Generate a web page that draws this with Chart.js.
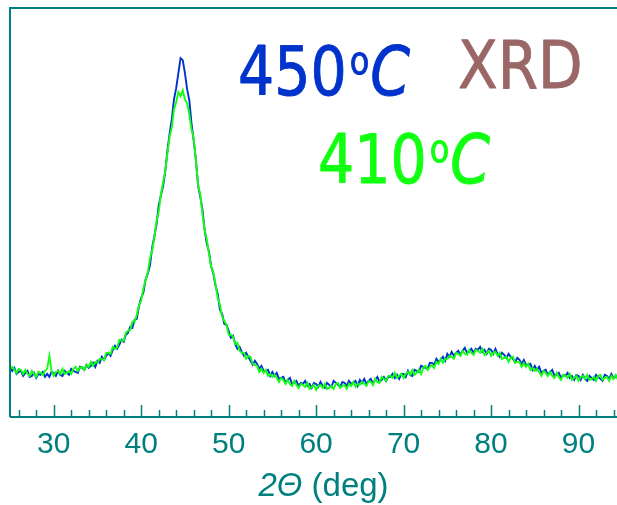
<!DOCTYPE html>
<html>
<head>
<meta charset="utf-8">
<script src="https://cdn.jsdelivr.net/npm/chart.js@4"></script>
<style>
  html, body { margin: 0; padding: 0; background: #fff; }
  #wrap { width: 617px; height: 505px; }
</style>
</head>
<body>
<div id="wrap"><canvas id="xrdChart" width="617" height="505"></canvas></div>
<script>
// scan grid, 2theta in degrees (0.25 deg steps)
const twoTheta = [
  25,25.25,25.5,25.75,26,26.25,26.5,26.75,27,27.25,27.5,27.75,28,28.25,28.5,28.75,29,29.25,29.5,29.75,
  30,30.25,30.5,30.75,31,31.25,31.5,31.75,32,32.25,32.5,32.75,33,33.25,33.5,33.75,34,34.25,34.5,34.75,
  35,35.25,35.5,35.75,36,36.25,36.5,36.75,37,37.25,37.5,37.75,38,38.25,38.5,38.75,39,39.25,39.5,39.75,
  40,40.25,40.5,40.75,41,41.25,41.5,41.75,42,42.25,42.5,42.75,43,43.25,43.5,43.75,44,44.25,44.5,44.75,
  45,45.25,45.5,45.75,46,46.25,46.5,46.75,47,47.25,47.5,47.75,48,48.25,48.5,48.75,49,49.25,49.5,49.75,
  50,50.25,50.5,50.75,51,51.25,51.5,51.75,52,52.25,52.5,52.75,53,53.25,53.5,53.75,54,54.25,54.5,54.75,
  55,55.25,55.5,55.75,56,56.25,56.5,56.75,57,57.25,57.5,57.75,58,58.25,58.5,58.75,59,59.25,59.5,59.75,
  60,60.25,60.5,60.75,61,61.25,61.5,61.75,62,62.25,62.5,62.75,63,63.25,63.5,63.75,64,64.25,64.5,64.75,
  65,65.25,65.5,65.75,66,66.25,66.5,66.75,67,67.25,67.5,67.75,68,68.25,68.5,68.75,69,69.25,69.5,69.75,
  70,70.25,70.5,70.75,71,71.25,71.5,71.75,72,72.25,72.5,72.75,73,73.25,73.5,73.75,74,74.25,74.5,74.75,
  75,75.25,75.5,75.75,76,76.25,76.5,76.75,77,77.25,77.5,77.75,78,78.25,78.5,78.75,79,79.25,79.5,79.75,
  80,80.25,80.5,80.75,81,81.25,81.5,81.75,82,82.25,82.5,82.75,83,83.25,83.5,83.75,84,84.25,84.5,84.75,
  85,85.25,85.5,85.75,86,86.25,86.5,86.75,87,87.25,87.5,87.75,88,88.25,88.5,88.75,89,89.25,89.5,89.75,
  90,90.25,90.5,90.75,91,91.25,91.5,91.75,92,92.25,92.5,92.75,93,93.25,93.5,93.75,94,94.25,94.5,94.75];

// intensity (arb. units), 450 C sample
const int450 = [
  50,46,49,43,45,46,41,44,46,40,41,44,39,43,42,45,40,43,40,45,
  44,41,46,42,41,46,44,42,48,46,45,44,50,49,47,52,49,51,54,50,
  56,54,60,57,61,64,61,67,71,68,72,77,75,82,84,90,89,97,98,111,
  119,124,137,143,151,169,180,192,211,221,230,245,266,283,297,317,328,343,358,356,
  343,327,316,293,276,257,231,220,207,187,173,165,150,143,131,123,107,103,93,92,
  86,79,81,73,68,70,65,61,64,60,56,52,56,53,48,51,46,46,47,41,
  45,41,44,38,39,40,34,37,39,33,34,36,31,34,33,36,31,33,29,34,
  33,30,35,31,29,34,32,30,36,34,32,30,35,34,31,36,33,34,36,31,
  37,34,38,33,36,38,33,37,40,35,37,40,36,40,40,43,39,42,38,43,
  43,40,46,42,41,47,46,45,51,50,49,48,54,54,52,58,55,57,60,56,
  63,60,65,61,64,66,62,66,69,64,65,68,64,68,67,70,65,67,63,68,
  67,63,68,63,60,64,62,59,63,60,58,55,59,57,53,57,52,52,53,47,
  51,47,50,44,46,47,42,45,47,41,42,44,39,42,41,44,39,41,37,42,
  41,37,42,38,36,41,39,37,42,40,38,36,42,41,38,43,39,40,42,37];

// intensity (arb. units), 410 C sample
const int410 = [
  48,50,47,44,48,47,43,47,43,41,46,43,40,45,44,42,46,48,61,46,
  41,45,46,43,48,43,44,46,43,48,50,46,49,50,47,52,50,55,51,55,
  54,58,58,57,64,64,63,70,68,69,77,76,76,84,86,87,95,95,102,112,
  116,128,137,144,158,166,179,195,205,222,234,245,263,280,289,307,314,324,320,326,
  317,313,302,287,278,256,232,222,203,187,177,163,150,144,132,119,112,100,96,92,
  82,82,80,73,74,66,64,64,58,61,60,53,52,51,45,48,44,47,41,43,
  40,42,39,35,39,37,33,37,33,31,36,32,29,33,32,30,34,28,30,32,
  27,31,32,29,33,28,29,31,28,33,34,29,31,32,28,33,31,35,30,33,
  32,35,33,31,36,35,32,38,35,34,40,38,36,41,41,39,44,39,41,43,
  39,43,45,42,47,42,44,47,43,49,51,47,50,52,49,55,53,58,54,58,
  58,61,60,58,64,63,61,66,63,62,67,64,62,67,66,64,68,62,64,66,
  61,64,65,61,64,58,59,60,55,59,60,54,55,55,50,54,50,53,47,49,
  46,48,45,41,46,44,41,45,41,39,44,40,37,42,41,39,43,37,39,41,
  36,40,41,38,42,37,38,40,36,41,42,37,39,40,36,41,38,42,37,40];

const majorTicks = [30,40,50,60,70,80,90];
const minorTicks = [26,28,32,34,36,38,42,44,46,48,52,54,56,58,62,64,66,68,72,74,76,78,82,84,86,88,92,94];

const teal = '#007f7f';
const blue = '#0033cc';
const green = '#11ff11';

// frame, inward ticks, axis title and the labels in the plot
const xrdDecor = {
  id: 'xrdDecor',
  afterDatasetsDraw(chart) {
    const {ctx, chartArea: a, scales: {x}} = chart;
    ctx.save();
    ctx.strokeStyle = teal;
    ctx.lineWidth = 2;
    ctx.beginPath();
    ctx.moveTo(a.left, a.bottom); ctx.lineTo(a.left, a.top); ctx.lineTo(a.right, a.top);
    ctx.moveTo(a.left, a.bottom); ctx.lineTo(a.right, a.bottom);
    ctx.stroke();
    ctx.lineWidth = 1.5;
    ctx.beginPath();
    majorTicks.forEach(v => { const px = Math.round(x.getPixelForValue(v)) + 0.5; ctx.moveTo(px, a.bottom); ctx.lineTo(px, a.bottom - 12); });
    minorTicks.forEach(v => { const px = Math.round(x.getPixelForValue(v)) + 0.5; ctx.moveTo(px, a.bottom); ctx.lineTo(px, a.bottom - 7); });
    ctx.stroke();

    // axis title: 2Θ (deg)
    ctx.fillStyle = teal;
    ctx.textBaseline = 'alphabetic';
    ctx.textAlign = 'left';
    const t1 = '2Θ', t2 = ' (deg)';
    ctx.font = 'italic 33px "Liberation Sans", Arial, sans-serif';
    const w1 = ctx.measureText(t1).width;
    ctx.font = '33px "Liberation Sans", Arial, sans-serif';
    const w2 = ctx.measureText(t2).width;
    let tx = (a.left + a.right) / 2 + 10 - (w1 + w2) / 2;
    ctx.font = 'italic 33px "Liberation Sans", Arial, sans-serif';
    ctx.fillText(t1, tx, 496);
    ctx.font = '33px "Liberation Sans", Arial, sans-serif';
    ctx.fillText(t2, tx + w1, 496);

    // sample labels, drawn a little taller and heavier like the hand-lettered originals
    const face = '"Comic Sans MS", "DejaVu Sans", sans-serif';
    const inked = (str, px, py, color) => {
      ctx.fillStyle = color; ctx.strokeStyle = color; ctx.lineWidth = 0.8; ctx.lineJoin = 'round';
      ctx.fillText(str, px, py); ctx.strokeText(str, px, py);
    };
    const tempLabel = (num, x0, base, color) => {
      ctx.save();
      ctx.translate(x0, base);
      ctx.scale(1, 1.18);
      ctx.font = '57px ' + face;
      inked(num, 0, 0, color);
      let cx = ctx.measureText(num).width + 3;
      ctx.font = '32px ' + face;
      inked('o', cx, -18, color);
      cx += ctx.measureText('o').width + 1;
      ctx.font = 'italic 57px ' + face;
      inked('C', cx, 0, color);
      ctx.restore();
    };
    tempLabel('450', 238, 95, blue);
    tempLabel('410', 318, 183, green);
    ctx.save();
    ctx.translate(458, 88);
    ctx.scale(1, 1.15);
    ctx.font = '58px ' + face;
    inked('XRD', 0, 0, '#9a6666');
    ctx.restore();
    ctx.restore();
  }
};

new Chart(document.getElementById('xrdChart'), {
  type: 'line',
  data: {
    labels: twoTheta,
    datasets: [
      { label: '410 C', data: int410, borderColor: green, borderWidth: 1.9, pointRadius: 0, tension: 0 },
      { label: '450 C', data: int450, borderColor: blue, borderWidth: 1.9, pointRadius: 0, tension: 0 }
    ]
  },
  options: {
    responsive: false,
    animation: false,
    layout: { padding: { left: 10, top: 8, right: 0, bottom: 32 } },
    plugins: { legend: { display: false }, tooltip: { enabled: false } },
    scales: {
      x: {
        type: 'linear',
        min: 25,
        max: 94.4,
        afterBuildTicks: s => { s.ticks = majorTicks.map(v => ({ value: v })); },
        grid: { display: false, drawTicks: false },
        border: { display: false },
        ticks: {
          color: teal,
          padding: 10,
          maxRotation: 0,
          font: { family: '"Liberation Sans", Arial, sans-serif', size: 30 }
        }
      },
      y: { display: false, min: 0, max: 408 }
    }
  },
  plugins: [xrdDecor]
});
</script>
</body>
</html>
